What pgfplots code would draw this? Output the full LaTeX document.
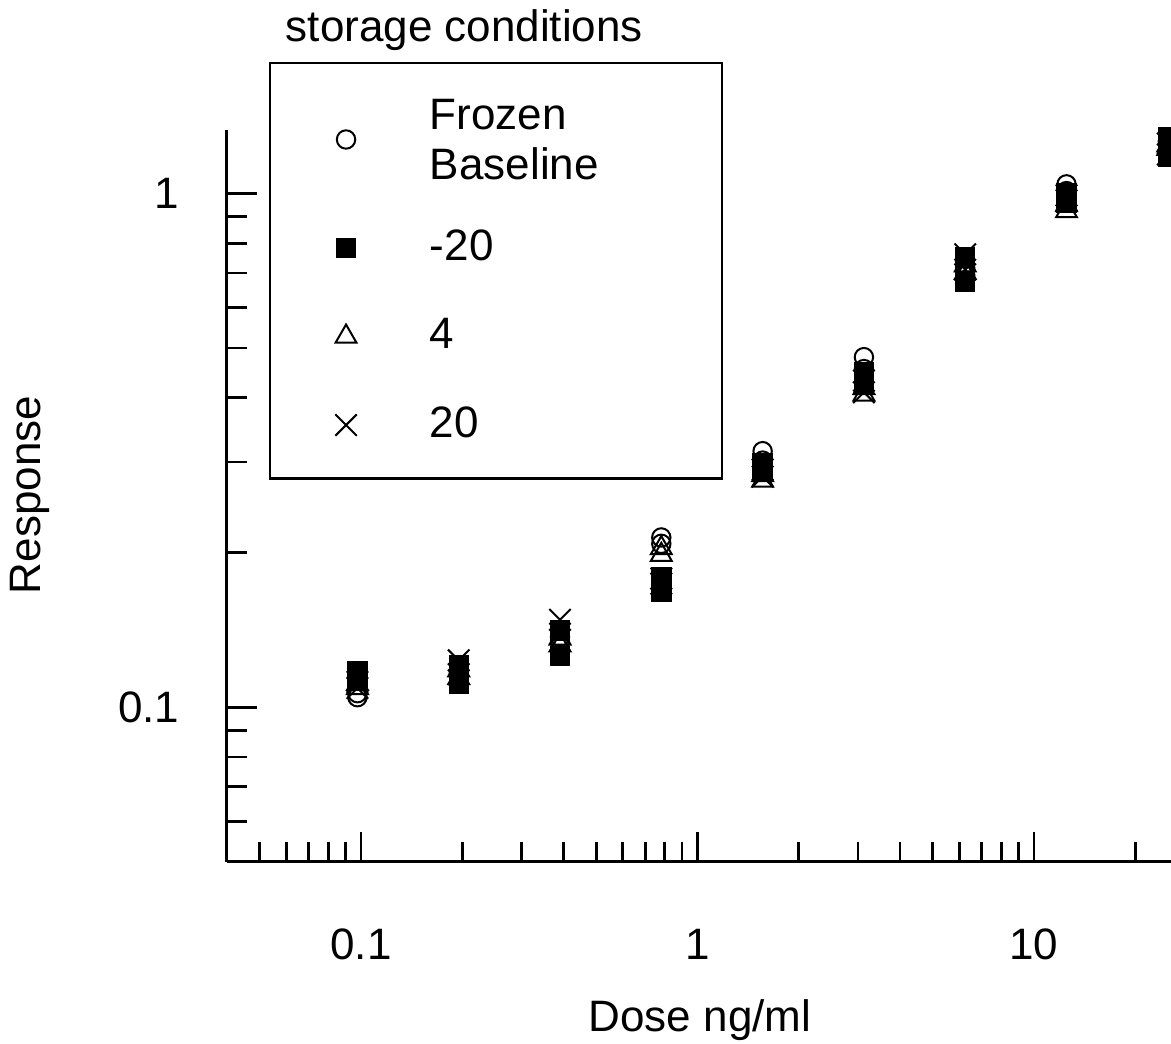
\documentclass[border=0pt]{standalone}
\usepackage{fontspec}
\setmainfont{Liberation Sans}
\usepackage{pgfplots}
\pgfplotsset{compat=1.18}
\pgfplotsset{
  firstlegimg/.style={legend image code/.code={\draw[mark repeat=1,mark phase=1,##1] plot coordinates {(0pt,-0.4pt)};}},
}
\begin{document}
\begin{tikzpicture}
\useasboundingbox (-56.75pt,-45.5pt) rectangle (236pt,215.5pt);
\clip (-56.75pt,-45.5pt) rectangle (236pt,215.5pt);
\begin{axis}[
  at={(0pt,0pt)}, anchor=south west,
  scale only axis, width=252.375pt, height=183pt,
  xmode=log, ymode=log,
  xmin=0.04, xmax=40, ymin=0.05, ymax=1.328,
  axis x line*=bottom, axis y line*=left,
  axis line style={-, line width=0.75pt, black},
  tick align=inside,
  xtick={0.1,1,10}, xticklabels={0.1,1,10},
  ytick={0.1,1}, yticklabels={0.1,1},
  minor xtick={0.05,0.06,0.07,0.08,0.09,0.2,0.3,0.4,0.5,0.6,0.7,0.8,0.9,2,3,4,5,6,7,8,9,20,30},
  minor ytick={0.06,0.07,0.08,0.09,0.2,0.3,0.4,0.5,0.6,0.7,0.8,0.9},
  major tick length=7.5pt, minor tick length=5pt,
  tick style={line width=0.7pt, black},
  tick label style={font=\fontsize{11}{13}\selectfont},
  xticklabel style={inner sep=0pt, anchor=north, yshift=-16.5pt},
  yticklabel style={inner sep=0pt, anchor=east, xshift=-11.75pt},
  xlabel={Dose ng/ml}, ylabel={Response},
  label style={font=\fontsize{11}{13}\selectfont},
  xlabel style={at={(axis description cs:0.4685,0)}, anchor=base, inner sep=0pt, yshift=-42.5pt},
  ylabel style={at={(axis description cs:-0.1845,0.5014)}, anchor=base, inner sep=0pt},
  legend style={at={(axis description cs:0.04161,1.0929)}, anchor=north west,
    draw=black, line width=0.55pt, inner xsep=16.3pt, inner ysep=8.75pt,
    row sep=13pt, column sep=18.3pt,
    font=\fontsize{11}{11.5}\selectfont,
    nodes={inner sep=0pt, text width=56.7pt, align=left}},
  legend cell align=left,
  legend image code/.code={\draw[mark repeat=1,mark phase=1,#1] plot coordinates {(0pt,0pt)};},
]
\addplot[only marks, mark=o, mark size=2.3pt, line width=0.5pt, black, firstlegimg] table {
d r
0.09766 0.1046
0.09766 0.1065
0.1953 0.1155
0.1953 0.1175
0.3906 0.137
0.3906 0.134
0.78125 0.214
0.78125 0.208
1.5625 0.315
1.5625 0.302
3.125 0.480
3.125 0.455
6.25 0.693
6.25 0.715
12.5 1.041
12.5 1.010
25 1.26
25 1.20
};
\addlegendentry{\raisebox{-2pt}[18.4pt][0pt]{\def\arraystretch{1.087}\begin{tabular}[b]{@{}l@{}}Frozen\\Baseline\end{tabular}}}
\addplot[only marks, mark=square*, mark size=2.3pt, line width=0.5pt, black, mark options={fill=black}] table {
d r
0.09766 0.1175
0.09766 0.1125
0.1953 0.1207
0.1953 0.1110
0.3906 0.141
0.3906 0.1257
0.78125 0.179
0.78125 0.168
1.5625 0.298
1.5625 0.287
3.125 0.449
3.125 0.425
6.25 0.750
6.25 0.674
12.5 1.000
12.5 0.960
25 1.285
25 1.180
};
\addlegendentry{-20}
\addplot[only marks, mark=triangle, mark size=3pt, line width=0.5pt, black] table {
d r
0.09766 0.109
0.09766 0.111
0.1953 0.114
0.1953 0.118
0.3906 0.136
0.3906 0.132
0.78125 0.204
0.78125 0.198
1.5625 0.276
1.5625 0.283
3.125 0.406
3.125 0.418
6.25 0.724
6.25 0.700
12.5 0.923
12.5 0.948
25 1.22
25 1.24
};
\addlegendentry{4}
\addplot[only marks, mark=x, mark size=3.8pt, line width=0.5pt, black] table {
d r
0.09766 0.112
0.09766 0.109
0.1953 0.1234
0.1953 0.116
0.3906 0.148
0.3906 0.139
0.78125 0.178
0.78125 0.174
1.5625 0.290
1.5625 0.281
3.125 0.410
3.125 0.432
6.25 0.761
6.25 0.710
12.5 0.969
12.5 0.991
25 1.25
25 1.19
};
\addlegendentry{20}
\end{axis}
\node[anchor=base west, inner sep=0pt, font=\fontsize{11}{13}\selectfont] at (14.5pt,205pt) {storage conditions};
\end{tikzpicture}
\end{document}
